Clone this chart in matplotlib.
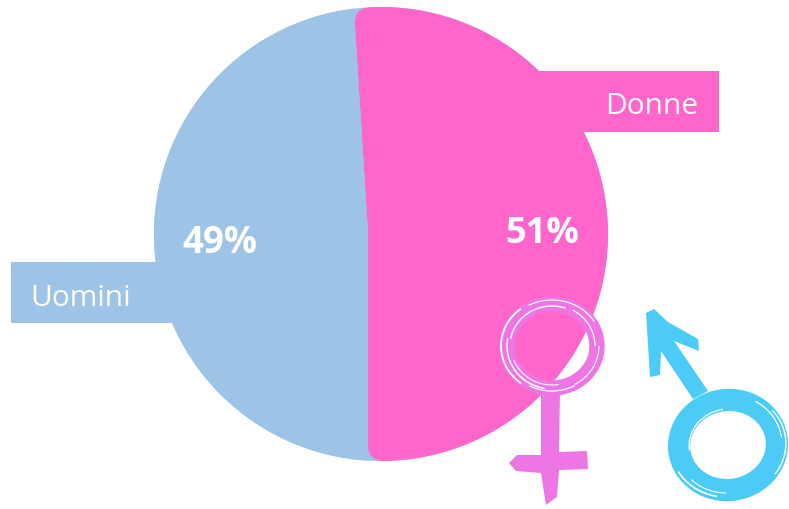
import numpy as np
import matplotlib
matplotlib.use("Agg")
import matplotlib.pyplot as plt
from matplotlib.patches import Circle, Rectangle, Ellipse, Arc, Polygon, PathPatch
from matplotlib.path import Path

labels = ["Donne", "Uomini"]
values = [51, 49]
pct_labels = ["51%", "49%"]
colors = ["#FF66CC", "#9DC3E6"]
W, H = 789, 510
FEM, MAL = "#EE76E4", "#4CCBF6"

plt.rcParams['font.family'] = ['Open Sans', 'DejaVu Sans']
fig = plt.figure(figsize=(W/100, H/100), dpi=100)
ax = fig.add_axes([0, 0, 1, 1])
Y = lambda y: H - y

# Circle outline of the pie, and the off-centre apex of the wedges
cx, cy, R = 381, Y(235), 227
ax_x, ax_y = 368, Y(235)

# label boxes sit behind the pie in the same colour
ax.add_patch(Rectangle((540, Y(133)), 179, 61, fc=colors[0], ec="none", zorder=1))
ax.add_patch(Rectangle((11, Y(324)), 165, 61, fc=colors[1], ec="none", zorder=1))

wedges, _ = ax.pie(values, colors=colors, startangle=-90, counterclock=True,
                   center=(ax_x, ax_y), radius=300, frame=True,
                   wedgeprops=dict(linewidth=0, zorder=2))
ax.set_xlim(0, W); ax.set_ylim(0, H); ax.set_aspect('auto'); ax.axis('off')

# blue: clipped to the circle
wedges[1].set_clip_on(True)
wedges[1].set_clip_path(Circle((cx, cy), R, transform=ax.transData))

# pink: clipped to the circle, with rounded corners at the two straight-edge ends
end = np.deg2rad(-90 + 360*values[0]/sum(values))
d = np.array([np.cos(end), np.sin(end)])
t = np.linspace(0, 400, 4001)
pts = np.array([ax_x, ax_y]) + t[:, None]*d
idx = np.argmax(np.hypot(pts[:, 0]-cx, pts[:, 1]-cy) > R)
top = pts[idx]
bot_x = ax_x
bot_y = cy - np.sqrt(R**2-(ax_x-cx)**2)
bot = np.array([bot_x, bot_y])
rc = 16
a_top = np.arctan2(top[1]-cy, top[0]-cx) - rc/R
a_bot = np.arctan2(bot[1]-cy, bot[0]-cx) + rc/R
arc_a = np.linspace(a_bot, a_top, 200)
arc = np.c_[cx+R*np.cos(arc_a), cy+R*np.sin(arc_a)]
v = np.r_[arc, [top], [top-d*rc], [[ax_x, ax_y]], [[ax_x, bot_y+rc]], [bot], arc[:1]]
c = [Path.MOVETO]+[Path.LINETO]*(len(arc)-1)+[Path.CURVE3, Path.CURVE3, Path.LINETO, Path.LINETO, Path.CURVE3, Path.CURVE3]
wedges[0].set_clip_on(True)
wedges[0].set_clip_path(PathPatch(Path(v, c), transform=ax.transData))

ax.add_patch(Circle((cx, cy), R, fc=colors[1], ec="none", zorder=1.5))

# texts
ax.text(652, Y(107), labels[0], color="white", fontsize=21.5, ha="center", va="center", zorder=5)
ax.text(81, Y(298), labels[1], color="white", fontsize=21.5, ha="center", va="center", zorder=5)
ax.text(542, Y(234), pct_labels[0], color="white", fontsize=26, fontweight="bold", ha="center", va="center", zorder=5)
ax.text(220, Y(243), pct_labels[1], color="white", fontsize=26.5, fontweight="bold", ha="center", va="center", zorder=5)

# ---- decorative sketched symbols ----
def ring(x, y, w, h, lw, col, scratches, angle=0):
    ax.add_patch(Ellipse((x, Y(y)), w, h, angle=angle, fc="none", ec=col, lw=lw, zorder=6))
    for (dw, dh, a, b, slw) in scratches:
        ax.add_patch(Arc((x, Y(y)), w+dw, h+dh, angle=angle, theta1=a, theta2=b,
                         color="white", lw=slw, zorder=7))

# female
ax.add_patch(Polygon([(541, Y(392)), (560, Y(392)), (559, Y(453)), (587, Y(452)), (588, Y(470)),
                      (559, Y(471)), (557, Y(498)), (546, Y(506)), (541, Y(474)),
                      (516, Y(472)), (509, Y(464)), (517, Y(456)), (541, Y(456))], fc=FEM, ec="none", zorder=6))
ring(552, 347, 90, 84, 11, FEM, [
    (10, 8, 30, 120, 0.9), (-6, -4, 70, 170, 1.0), (12, 10, 130, 230, 1.3), (0, 2, 170, 260, 1.1),
    (6, 6, 240, 300, 0.9), (-8, -6, 200, 280, 0.8), (4, 4, 300, 360, 0.8), (-4, -2, 0, 60, 0.9)])

# male
ax.add_patch(Polygon([(693, Y(400)), (708, Y(392)), (674, Y(342)), (699, Y(352)), (698, Y(340)),
                      (668, Y(323)), (654, Y(310)), (646, Y(314)), (650, Y(378)), (660, Y(376)),
                      (661, Y(352))], fc=MAL, ec="none", zorder=6))
ring(728, 446, 98, 90, 16, MAL, [
    (18, 14, -40, 30, 1.0), (10, 10, 0, 50, 0.9), (-20, -18, 90, 180, 0.9),
    (16, 14, 200, 250, 1.2), (6, 6, 215, 260, 0.8)], angle=8)

fig.savefig("out.png", dpi=100, facecolor="white")
